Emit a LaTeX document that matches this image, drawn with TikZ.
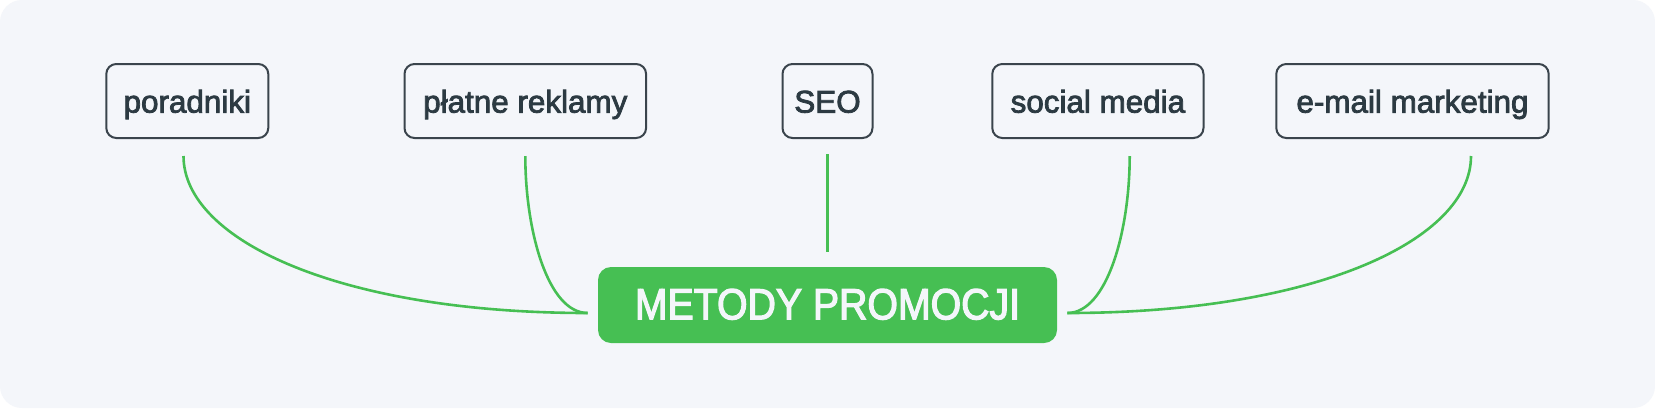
\documentclass[tikz,border=0pt]{standalone}
\usepackage{fontspec}
\setmainfont{Liberation Sans}
\newfontfamily\titlefont[FakeStretch=0.9]{Liberation Sans}
\newcommand{\heavytext}[2]{\special{pdf:literal direct 2 Tr #1 w}#2\special{pdf:literal direct 0 Tr}}
\definecolor{bg}{HTML}{F4F6FA}
\definecolor{ink}{HTML}{2C3A42}
\definecolor{frame}{HTML}{3A444C}
\definecolor{leaf}{HTML}{46BF53}
\begin{document}
\begin{tikzpicture}[x=0.5pt,y=-0.5pt,
  item/.style={draw=frame, line width=1pt, rounded corners=5pt, fill=bg,
    text=ink, font=\fontsize{15.7}{18}\selectfont,
    minimum height=37pt, inner sep=0pt, text height=11.6pt, text depth=0pt},
  hub/.style={fill=leaf, rounded corners=6.5pt, text=bg,
    font=\titlefont\fontsize{21.8}{26}\selectfont,
    minimum width=229.5pt, minimum height=38pt, inner sep=0pt,
    text height=14.3pt, text depth=0pt},
  link/.style={draw=leaf, line width=1.3pt}]
\useasboundingbox (0,0) rectangle (1655,408);
\fill[white] (0,0) rectangle (1655,408);
\fill[bg, rounded corners=11pt] (0,0) rectangle (1655,408);

\node[item, minimum width=81pt]    (por)  at (187.3,101)  {\heavytext{0.4}{poradniki}};
\node[item, minimum width=120.8pt] (plat) at (525.3,101)  {\heavytext{0.4}{płatne reklamy}};
\node[item, minimum width=45pt]    (seo)  at (827.5,101)  {\heavytext{0.4}{SEO}};
\node[item, minimum width=105.6pt] (soc)  at (1097.9,101) {\heavytext{0.4}{social media}};
\node[item, minimum width=136.2pt] (mail) at (1412.5,101) {\heavytext{0.4}{e-mail marketing}};
\node[hub] (hub) at (827.5,305) {\heavytext{0.6}{METODY PROMOCJI}};

\draw[link] ([xshift=-1.9pt,yshift=-8.5pt]por.south)
  .. controls +(0,84) and +(-248,0) .. ([xshift=-5pt,yshift=-4pt]hub.west);
\draw[link] ([yshift=-8.5pt]plat.south)
  .. controls +(0,74) and +(-40,0) .. ([xshift=-5pt,yshift=-4pt]hub.west);
\draw[link] ([yshift=-7.5pt]seo.south) -- ([yshift=7.5pt]hub.north);
\draw[link] ([xshift=15.9pt,yshift=-8.5pt]soc.south)
  .. controls +(0,74) and +(40,0) .. ([xshift=5pt,yshift=-4pt]hub.east);
\draw[link] ([xshift=29.25pt,yshift=-8.5pt]mail.south)
  .. controls +(0,84) and +(248,0) .. ([xshift=5pt,yshift=-4pt]hub.east);
\end{tikzpicture}
\end{document}
